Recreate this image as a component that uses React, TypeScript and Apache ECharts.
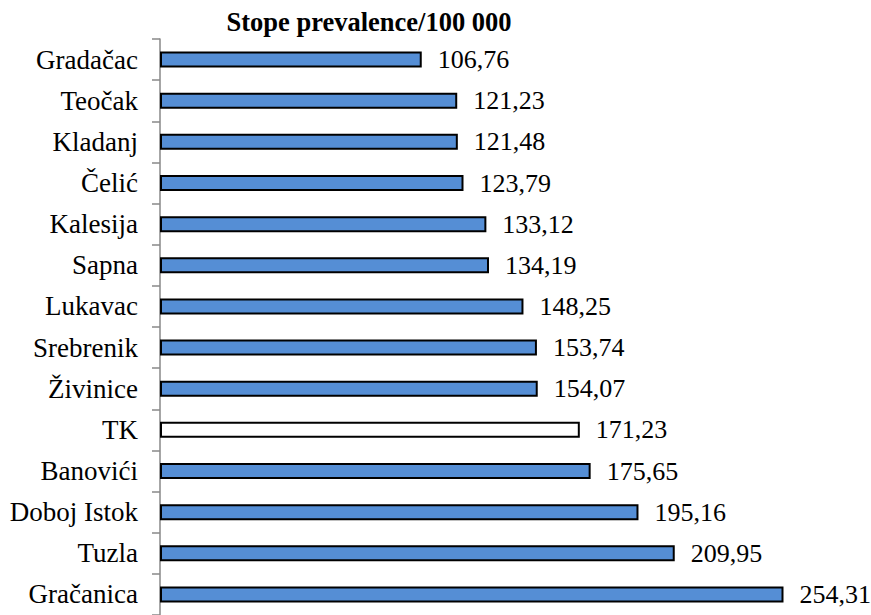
import React, { useEffect, useRef } from "react";
import * as echarts from "echarts";

const categories = [
  "Gradačac", "Teočak", "Kladanj", "Čelić", "Kalesija", "Sapna", "Lukavac",
  "Srebrenik", "Živinice", "TK", "Banovići", "Doboj Istok", "Tuzla", "Gračanica",
];
const values = [
  106.76, 121.23, 121.48, 123.79, 133.12, 134.19, 148.25,
  153.74, 154.07, 171.23, 175.65, 195.16, 209.95, 254.31,
];
const highlightCategory = "TK";
const titleText = "Stope prevalence/100 000";

const FONT = "Times New Roman, Liberation Serif, serif";

export default function App() {
  const ref = useRef<HTMLDivElement>(null);
  useEffect(() => {
    if (!ref.current) return;
    const chart = echarts.init(ref.current, undefined, { renderer: "svg" });
    chart.setOption({
      animation: false,
      textStyle: { fontFamily: FONT },
      title: {
        text: titleText,
        left: 364,
        textAlign: "center",
        top: 3,
        textStyle: { fontFamily: FONT, fontSize: 26.5, fontWeight: "bold", color: "#000" },
      },
      grid: { left: 160, right: 0, top: 39, bottom: -5.5, containLabel: false },
      xAxis: {
        type: "value",
        min: 0,
        max: 290,
        show: false,
      },
      yAxis: {
        type: "category",
        inverse: true,
        data: categories,
        axisLine: { show: true, lineStyle: { color: "#888", width: 1.5 } },
        axisTick: { show: true, length: 8, lineStyle: { color: "#888", width: 1.5 } },
        axisLabel: { fontFamily: FONT, fontSize: 27, color: "#000", margin: 22 },
        splitLine: { show: false },
      },
      series: [
        {
          type: "bar",
          barWidth: 16,
          data: values.map((v, i) => ({
            value: v,
            itemStyle:
              categories[i] === highlightCategory
                ? { color: "#ffffff", borderColor: "#000", borderWidth: 2 }
                : { color: "#558ED5", borderColor: "#000", borderWidth: 2 },
          })),
          label: {
            show: true,
            position: "right",
            distance: 16,
            fontFamily: FONT,
            fontSize: 26,
            color: "#000",
            formatter: (p: any) => p.value.toFixed(2).replace(".", ","),
          },
        },
      ],
    });
    return () => chart.dispose();
  }, []);
  return (
    <div
      ref={ref}
      style={{ position: "fixed", left: 0, top: 0, width: 871, height: 615, background: "#fff" }}
    />
  );
}
